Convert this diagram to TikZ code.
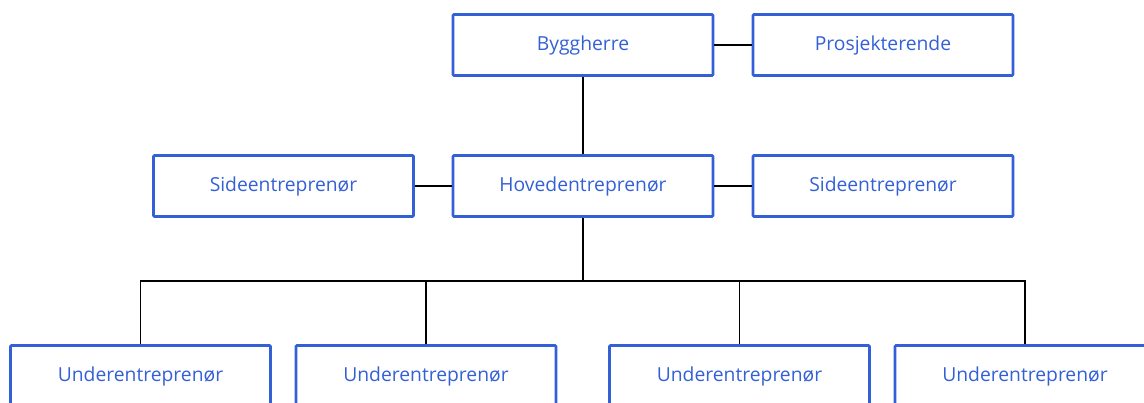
\documentclass[tikz,border=0pt]{standalone}
\usepackage{fontspec}
\setmainfont{Carlito}
\newfontfamily\robo{Open Sans}
\definecolor{boxblue}{RGB}{51,96,214}
\begin{document}
\begin{tikzpicture}[x=1pt,y=-1pt,
  orgbox/.style={draw=boxblue, line width=2.6pt, rounded corners=1pt, minimum width=260pt, minimum height=61pt, text=boxblue, font=\robo\fontsize{19.3}{22}\selectfont, inner sep=0pt},
  link/.style={draw=black, line width=1.3pt}]
\useasboundingbox (0,0) rectangle (1144,403);
\clip (0,0) rectangle (1144,403);
\node[orgbox] (bygg) at (583,45) {Byggherre};
\node[orgbox] (pros) at (883,45) {Prosjekterende};
\node[orgbox] (sideL) at (283.5,186) {Sideentreprenør};
\node[orgbox] (hoved) at (583,186) {Hovedentreprenør};
\node[orgbox] (sideR) at (883,186) {Sideentreprenør};
\node[orgbox] (u1) at (140.5,376) {Underentreprenør};
\node[orgbox] (u2) at (426,376) {Underentreprenør};
\node[orgbox] (u3) at (739.5,376) {Underentreprenør};
\node[orgbox] (u4) at (1025,376) {Underentreprenør};
\coordinate (bus) at (583,281);
\draw[link] (bygg.east) -- (pros.west);
\draw[link] (bygg.south) -- (hoved.north);
\draw[link] (sideL.east) -- (hoved.west);
\draw[link] (hoved.east) -- (sideR.west);
\draw[link] (hoved.south) -- (bus);
\draw[link] (u1.north) |- (bus) -| (u4.north);
\draw[link] (u2.north) -- (u2.north |- bus);
\draw[link] (u3.north) -- (u3.north |- bus);
\end{tikzpicture}
\end{document}
